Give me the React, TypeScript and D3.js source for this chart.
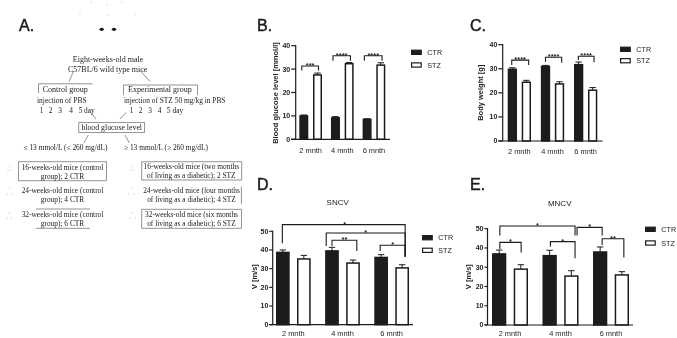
import React from "react";
import * as d3 from "d3";

const months = ["2 mnth", "4 mnth", "6 mnth"];
const seriesNames = ["CTR", "STZ"];

const glucoseMeans = [10, 27.5, 9.2, 32.3, 8.5, 31.7];
const glucoseCaps = [10.4, 28.3, 9.7, 32.8, 8.8, 32.7];
const weightMeans = [29.8, 24.4, 31, 23.7, 31.7, 21.1];
const weightCaps = [30.4, 25.2, 31.4, 24.6, 32.8, 22.2];
const sncvMeans = [38.7, 35.2, 39.5, 33, 36, 30.4];
const sncvCaps = [40, 37.1, 41.4, 34.6, 37.5, 32.1];
const mncvMeans = [36.9, 29, 36, 25.4, 37.9, 26];
const mncvCaps = [38.9, 31.3, 38.8, 28.2, 40.5, 27.7];

// bar a, bar b, top value, left drop value, right drop value, label, nudge a, nudge b, label nudge
type Bracket = [number, number, number, number, number, string, number, number, number];
const glucoseBrackets: Bracket[] = [
  [0, 1, 31.3, 29.4, 29.4, "***", -2, 1, 0],
  [2, 3, 35.7, 33.6, 33.6, "****", -2.5, 1.3, 0],
  [4, 5, 35.7, 33.6, 33.6, "****", -2.7, 1.3, 0],
];
const weightBrackets: Bracket[] = [
  [0, 1, 33.6, 31.6, 31.6, "****", -0.6, 2.3, 0],
  [2, 3, 34.8, 32.9, 32.5, "****", 0, 2.2, 0],
  [4, 5, 35.2, 33.6, 32.7, "****", -0.3, 1.4, 0],
];
const sncvBrackets: Bracket[] = [
  [0, 5, 53.6, 43.6, 36.4, "*", -0.5, 3, 1],
  [2, 5, 49.1, 42.1, 36.4, "*", -5.8, 3, 0],
  [2, 3, 45.2, 42.1, 39.5, "**", 0, 3.8, 0],
  [4, 5, 42.5, 39.5, 36.4, "*", -1, 3, 0],
];
const mncvBrackets: Bracket[] = [
  [0, 3, 51.4, 46.5, 46.5, "*", 0.7, 3.7, 0],
  [3, 4, 50.7, 46.5, 46.5, "*", 5.7, 2, 0],
  [0, 1, 42.9, 39.4, 37.7, "*", 0.7, 0.3, 0],
  [2, 3, 43.3, 40.7, 34.6, "*", 0.8, 3.7, 0],
  [4, 5, 44.8, 41.5, 35.1, "**", 2, 2, 0],
];

const sans = "'Liberation Sans', Arial, sans-serif";
const serif = "'Liberation Serif', 'Times New Roman', serif";
const ink = "#1c1c1c";

type PanelProps = {
  means: number[];
  caps: number[];
  brackets: Bracket[];
  max: number;
  ticks: number[];
  axisX: number;
  axisEnd: number;
  tickLen: number;
  y0: number;
  yTop: number;
  barsX: [number, number];
  barW: number;
  barGap: number;
  xLabelY: number;
  yTitle: string;
  yTitleX: number;
  yTitleY: number;
  legendX: number;
  legendY: [number, number];
  title?: string;
  titleX?: number;
  titleY?: number;
};

function BarPanel(p: PanelProps) {
  const y = d3.scaleLinear().domain([0, p.max]).range([p.y0, p.yTop]);
  const groupW = p.barW * 2 + p.barGap;
  const groupStep = (p.barsX[1] - p.barsX[0] - groupW) / 2;
  const x0 = d3.scaleBand<string>().domain(months).range(p.barsX).paddingInner(1 - groupW / groupStep).paddingOuter(0);
  const x1 = d3.scaleBand<string>().domain(seriesNames).range([0, x0.bandwidth()]).paddingInner(p.barGap / (p.barW + p.barGap)).paddingOuter(0);
  const barLeft = (i: number) => (x0(months[Math.floor(i / 2)]) as number) + (x1(seriesNames[i % 2]) as number);
  const barMid = (i: number) => barLeft(i) + x1.bandwidth() / 2;
  const sw = 1.5;
  return (
    <g fontFamily={sans} fill={ink}>
      {p.means.map((v, i) => (
        <g key={i}>
          <line x1={barMid(i)} x2={barMid(i)} y1={y(v)} y2={y(p.caps[i])} stroke={ink} strokeWidth={1} />
          <line x1={barMid(i) - 3.2} x2={barMid(i) + 3.2} y1={y(p.caps[i])} y2={y(p.caps[i])} stroke={ink} strokeWidth={1} />
          <rect
            x={barLeft(i) + sw / 2}
            y={y(v)}
            width={x1.bandwidth() - sw}
            height={y(0) - y(v)}
            fill={i % 2 === 0 ? ink : "#fff"}
            stroke={ink}
            strokeWidth={sw}
          />
        </g>
      ))}
      <line x1={p.axisX} x2={p.axisX} y1={y(p.max) - 0.6} y2={y(0)} stroke={ink} strokeWidth={1.2} />
      <line x1={p.axisX - p.tickLen} x2={p.axisEnd} y1={y(0)} y2={y(0)} stroke={ink} strokeWidth={1.2} />
      {p.ticks.map((t) => (
        <g key={t}>
          <line x1={p.axisX - p.tickLen} x2={p.axisX} y1={y(t)} y2={y(t)} stroke={ink} strokeWidth={1.2} />
          <text x={p.axisX - p.tickLen - 1} y={y(t)} dy="0.35em" textAnchor="end" fontSize={7} fontWeight="bold">{t}</text>
        </g>
      ))}
      {months.map((m) => (
        <text key={m} x={(x0(m) as number) + x0.bandwidth() / 2} y={p.xLabelY} dy="0.35em" textAnchor="middle" fontSize={7.4}>{m}</text>
      ))}
      <text
        transform={`translate(${p.yTitleX},${p.yTitleY}) rotate(-90)`}
        textAnchor="middle"
        dy="0.35em"
        fontSize={7.5}
        fontWeight="bold"
      >
        {p.yTitle}
      </text>
      {p.brackets.map((b, i) => {
        const xa = barMid(b[0]) + b[6];
        const xb = barMid(b[1]) + b[7];
        return (
          <g key={i}>
            <path
              d={d3.line()([[xa, y(b[3])], [xa, y(b[2])], [xb, y(b[2])], [xb, y(b[4])]]) as string}
              fill="none"
              stroke={ink}
              strokeWidth={1.1}
            />
            <text x={(xa + xb) / 2 + b[8]} y={y(b[2]) + 2} textAnchor="middle" fontSize={7.5} fontWeight="bold">{b[5]}</text>
          </g>
        );
      })}
      {seriesNames.map((s, i) => (
        <g key={s}>
          <rect
            x={p.legendX + 0.6}
            y={p.legendY[i] - 2.1}
            width={9.6}
            height={4.2}
            fill={i === 0 ? ink : "#fff"}
            stroke={ink}
            strokeWidth={1.2}
          />
          <text x={p.legendX + 16.3} y={p.legendY[i]} dy="0.35em" fontSize={7.2}>{s}</text>
        </g>
      ))}
      {p.title && (
        <text x={p.titleX} y={p.titleY} dy="0.35em" textAnchor="middle" fontSize={8}>{p.title}</text>
      )}
    </g>
  );
}

const letterLabels: [string, number, number][] = [
  ["A.", 19, 31],
  ["B.", 257, 30.7],
  ["C.", 470, 30.7],
  ["D.", 257, 190],
  ["E.", 470, 190],
];

// text, x, y, anchor, font size
const flowTexts: [string, number, number, string, number][] = [
  ["Eight-weeks-old male", 108, 59.3, "middle", 8],
  ["C57BL/6 wild type mice", 107.7, 69.3, "middle", 8],
  ["Control group", 42.7, 89.3, "start", 8],
  ["Experimental group", 128, 89.5, "start", 8],
  ["injection of PBS", 37, 101, "start", 7.5],
  ["injection of STZ 50 mg/kg in PBS", 124, 101, "start", 7.4],
  ["1", 41.5, 111, "middle", 7.4],
  ["2", 50.5, 111, "middle", 7.4],
  ["3", 60, 111, "middle", 7.4],
  ["4", 71, 111, "middle", 7.4],
  ["5", 80.5, 111, "middle", 7.4],
  ["day", 84, 111, "start", 7.4],
  ["1", 131.5, 111, "middle", 7.4],
  ["2", 140.5, 111, "middle", 7.4],
  ["3", 150, 111, "middle", 7.4],
  ["4", 159.5, 111, "middle", 7.4],
  ["5", 168.5, 111, "middle", 7.4],
  ["day", 172.5, 111, "start", 7.4],
  ["blood glucose level", 111.7, 127.3, "middle", 7.8],
  ["≤ 13 mmol/L (≤ 260 mg/dL)", 23.5, 147.7, "start", 7.4],
  ["≥ 13 mmol/L (≥ 260 mg/dL)", 124, 147.7, "start", 7.4],
  ["16-weeks-old mice (control", 62.5, 167.5, "middle", 7.4],
  ["group); 2 CTR", 62.5, 176.7, "middle", 7.4],
  ["24-weeks-old mice (control", 62.5, 191, "middle", 7.4],
  ["group); 4 CTR", 62.5, 199.7, "middle", 7.4],
  ["32-weeks-old mice (control", 62.5, 214.7, "middle", 7.4],
  ["group); 6 CTR", 62.5, 223.7, "middle", 7.4],
  ["16-weeks-old mice (two months", 191.3, 166.7, "middle", 7.4],
  ["of living as a diabetic); 2 STZ", 191.3, 175.7, "middle", 7.4],
  ["24-weeks-old mice (four months", 191.5, 191, "middle", 7.4],
  ["of living as a diabetic); 4 STZ", 191.5, 199.7, "middle", 7.4],
  ["32-weeks-old mice (six months", 191.5, 214.7, "middle", 7.4],
  ["of living as a diabetic); 6 STZ", 191.5, 223.7, "middle", 7.4],
];

const flowLines: string[] = [
  "M73.5,71.5L69,81.5",
  "M140,70.5L150,81.5",
  "M38.5,93V83.8H92.7",
  "M123.5,95V85H197.5V95",
  "M90,111.5L96,119",
  "M126,112.5L120,119",
  "M78.7,122.5V132.5H144.5V122.5H78.7",
  "M88.3,135L84,143",
  "M125,135L129.3,143",
  "M18.5,161.7V180.7H106.5V161.7H18.5",
  "M141.7,161.7V180H241.7V161.7H141.7",
  "M241.4,186.5V204",
  "M36,209H90M36,228.3H90",
  "M141.7,209.3V228.3H241.5V209.3H141.7",
];

const faintDots: [number, number][] = [
  [8, 170], [11, 170], [9.5, 166], [7, 194], [12, 194], [9.5, 188], [7, 218], [11, 218], [9, 213],
  [131, 170], [134, 170], [132.5, 166], [129, 194], [134, 194], [132, 188], [130, 218], [135, 218], [132.5, 213],
  [107, 5], [108, 15], [80, 14], [135, 14], [91, 2], [122, 2],
];

export default function App() {
  return (
    <svg
      width={677}
      height={338}
      viewBox="0 0 677 338"
      style={{ position: "absolute", left: 0, top: 0, background: "#fff" }}
    >
      <defs>
        <filter id="soft" x="0" y="0" width="100%" height="100%">
          <feGaussianBlur stdDeviation="0.3" />
        </filter>
      </defs>
      <g filter="url(#soft)">
        {letterLabels.map(([t, x, y]) => (
          <text key={t} x={x} y={y} fontFamily={sans} fontSize={16} fill={ink} stroke={ink} strokeWidth={0.5}>{t}</text>
        ))}
        <ellipse cx={101.7} cy={29.3} rx={2.2} ry={1.6} fill={ink} />
        <ellipse cx={114} cy={29.3} rx={2.2} ry={1.6} fill={ink} />
        {faintDots.map(([x, y], i) => (
          <circle key={i} cx={x} cy={y} r={0.6} fill="#b5b5b5" />
        ))}
        {flowLines.map((d, i) => (
          <path key={i} d={d} fill="none" stroke="#666" strokeWidth={0.7} />
        ))}
        <g fontFamily={serif} fill="#222">
          {flowTexts.map(([t, x, y, a, s], i) => (
            <text key={i} x={x} y={y} dy="0.32em" fontSize={s} textAnchor={a as "start" | "middle"}>{t}</text>
          ))}
        </g>
        <BarPanel
          means={glucoseMeans} caps={glucoseCaps} brackets={glucoseBrackets} max={40} ticks={[0, 10, 20, 30, 40]}
          axisX={295.7} axisEnd={390} tickLen={4.5} y0={139.3} yTop={45.7} barsX={[299.3, 385.3]} barW={9} barGap={4.7}
          xLabelY={150} yTitle="Blood glucose level [mmol/l]" yTitleX={275} yTitleY={93}
          legendX={411} legendY={[52.3, 65]}
        />
        <BarPanel
          means={weightMeans} caps={weightCaps} brackets={weightBrackets} max={40} ticks={[0, 10, 20, 30, 40]}
          axisX={502.7} axisEnd={602.7} tickLen={4.4} y0={141} yTop={44.7} barsX={[507.7, 597.3]} barW={9.3} barGap={4.7}
          xLabelY={151} yTitle="Body weight [g]" yTitleX={480.7} yTitleY={92.7}
          legendX={620} legendY={[49.3, 60.7]}
        />
        <BarPanel
          means={sncvMeans} caps={sncvCaps} brackets={sncvBrackets} max={50} ticks={[0, 10, 20, 30, 40, 50]}
          axisX={272.7} axisEnd={413} tickLen={3.4} y0={324.7} yTop={231.3} barsX={[276, 409]} barW={13.7} barGap={7.3}
          xLabelY={333} yTitle="V [m/s]" yTitleX={254} yTitleY={276.7}
          legendX={422} legendY={[237.7, 250.3]} title="SNCV" titleX={337.7} titleY={201.7}
        />
        <BarPanel
          means={mncvMeans} caps={mncvCaps} brackets={mncvBrackets} max={50} ticks={[0, 10, 20, 30, 40, 50]}
          axisX={487.5} axisEnd={633} tickLen={3} y0={325} yTop={228.7} barsX={[492, 629]} barW={14.3} barGap={7.4}
          xLabelY={333.5} yTitle="V [m/s]" yTitleX={468.7} yTitleY={276.7}
          legendX={645} legendY={[229.3, 243]} title="MNCV" titleX={559.7} titleY={202.7}
        />
      </g>
    </svg>
  );
}
